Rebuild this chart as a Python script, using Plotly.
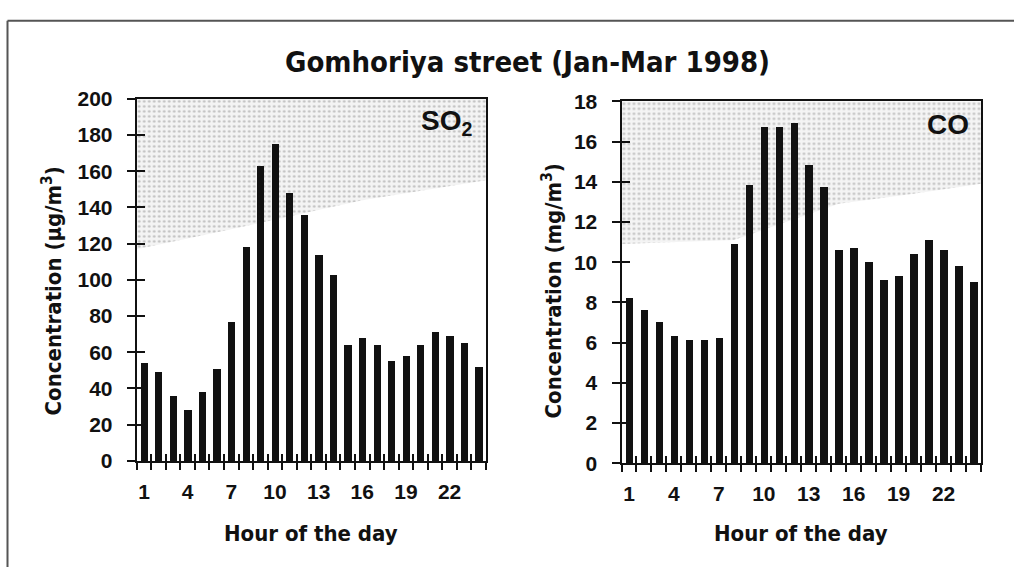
import plotly.graph_objects as go

# Hourly mean concentrations, Gomhoriya street, Jan-Mar 1998
hours = list(range(1, 25))
so2 = [54, 49, 36, 28, 38, 51, 77, 118, 163, 175, 148, 136,
       114, 103, 64, 68, 64, 55, 58, 64, 71, 69, 65, 52]
co = [8.2, 7.6, 7.0, 6.3, 6.1, 6.1, 6.2, 10.9, 13.8, 16.7, 16.7, 16.9,
      14.8, 13.7, 10.6, 10.7, 10.0, 9.1, 9.3, 10.4, 11.1, 10.6, 9.8, 9.0]

# Shaded (stippled) upper band: lower edge along the hour axis
so2_band_x = [0.5, 7, 16, 24.5]
so2_band_lo = [117, 128, 144, 155]
co_band_x = [0.5, 8, 15, 20, 24.5]
co_band_lo = [10.9, 11.1, 12.9, 13.4, 13.9]

hour_labels = [1, 4, 7, 10, 13, 16, 19, 22]
so2_ticks = list(range(0, 201, 20))
co_ticks = list(range(0, 19, 2))

TITLE = "Gomhoriya street (Jan-Mar 1998)"
COND = "DejaVu Sans Condensed, Liberation Sans Narrow, Liberation Sans, Arial, sans-serif"
SANS = "Liberation Sans, Arial, sans-serif"
INK = "#111111"

xr = [0.5, 24.5]
bounds = [h - 0.5 for h in hours] + [24.5]

fig = go.Figure()


def band(bx, blo, top, xa, ya):
    xs = list(bx) + list(reversed(bx))
    ys = list(blo) + [top] * len(bx)
    return go.Scatter(
        x=xs, y=ys, xaxis=xa, yaxis=ya, mode="lines", fill="toself",
        line=dict(width=0), fillcolor="rgba(0,0,0,0)",
        fillpattern=dict(shape=".", fgcolor="#8c8c8c", bgcolor="#f4f4f4",
                         size=5, solidity=0.22),
        hoverinfo="skip", showlegend=False)


# stippled bands sit on the base subplots
fig.add_trace(band(so2_band_x, so2_band_lo, 200, "x", "y"))
fig.add_trace(band(co_band_x, co_band_lo, 18, "x2", "y2"))

# bars live on the overlaying subplots so they are drawn above the bands
fig.add_trace(go.Bar(x=hours, y=so2, width=0.5, marker=dict(color=INK, line=dict(width=0)),
                     xaxis="x3", yaxis="y3", showlegend=False, name="SO2"))
fig.add_trace(go.Bar(x=hours, y=co, width=0.5, marker=dict(color=INK, line=dict(width=0)),
                     xaxis="x4", yaxis="y4", showlegend=False, name="CO"))

L_dom = [136.7 / 1014, 486 / 1014]
L_ydom = [1 - 467.5 / 578, 1 - 90.5 / 578]
R_dom = [621.5 / 1014, 981 / 1014]
R_ydom = [1 - 470 / 578, 1 - 93 / 578]

tickfont = dict(family=SANS, size=21, color=INK, weight="bold")


def xmain(dom, anchor):
    return dict(domain=dom, anchor=anchor, range=xr, showline=True, linecolor=INK,
                linewidth=2, mirror=True, showgrid=False, zeroline=False,
                tickmode="array", tickvals=hour_labels, ticktext=[str(h) for h in hour_labels],
                ticks="outside", ticklen=0, tickfont=tickfont, ticklabelstandoff=11,
                minor=dict(tickmode="array", tickvals=bounds, ticks="outside", ticklen=7,
                           tickwidth=1.5, tickcolor=INK))


def xinner(over, anchor, dom):
    return dict(domain=dom, overlaying=over, anchor=anchor, range=xr, showline=False,
                showgrid=False, zeroline=False, showticklabels=False,
                tickmode="array", tickvals=bounds, ticks="inside", ticklen=7,
                tickwidth=1.5, tickcolor=INK)


def ymain(dom, anchor, rng, tv):
    return dict(domain=dom, anchor=anchor, range=rng, showline=True, linecolor=INK,
                linewidth=2, mirror=True, showgrid=False, zeroline=False,
                tickmode="array", tickvals=tv, ticks="outside", ticklen=8, tickwidth=1.5,
                tickcolor=INK, tickfont=tickfont, ticklabelstandoff=10)


def yinner(over, anchor, dom, rng, tv):
    return dict(domain=dom, overlaying=over, anchor=anchor, range=rng, showline=False,
                showgrid=False, zeroline=False, showticklabels=False,
                tickmode="array", tickvals=tv, ticks="inside", ticklen=8, tickwidth=1.5,
                tickcolor=INK)


fig.update_layout(
    width=1014, height=578, margin=dict(l=0, r=0, t=0, b=0),
    paper_bgcolor="white", plot_bgcolor="rgba(0,0,0,0)", bargap=0,
    xaxis=xmain(L_dom, "y"),
    yaxis=ymain(L_ydom, "x", [0, 200], so2_ticks),
    xaxis2=xmain(R_dom, "y2"),
    yaxis2=ymain(R_ydom, "x2", [0, 18], co_ticks),
    xaxis3=xinner("x", "y3", L_dom),
    yaxis3=yinner("y", "x3", L_ydom, [0, 200], so2_ticks),
    xaxis4=xinner("x2", "y4", R_dom),
    yaxis4=yinner("y2", "x4", R_ydom, [0, 18], co_ticks),
    showlegend=False,
)


def label(text, x, y, size, family, angle=0, xanchor="center"):
    fig.add_annotation(text=text, x=x / 1014, y=1 - y / 578, xref="paper", yref="paper",
                       showarrow=False, xanchor=xanchor, yanchor="middle", textangle=angle,
                       font=dict(family=family, size=size, color=INK, weight="bold"))


label(TITLE, 527, 52, 29, COND)
label("SO<sub>2</sub>", 474, 115, 28, SANS, xanchor="right")
label("CO", 971, 117, 28, SANS, xanchor="right")
label("Concentration (µg/m<sup>3</sup>)", 52, 291, 22, COND, angle=-90)
label("Concentration (mg/m<sup>3</sup>)", 552, 291, 22, COND, angle=-90)
label("Hour of the day", 311, 543, 22, COND)
label("Hour of the day", 801, 543, 22, COND)

# outer frame (top and left edges)
fig.add_shape(type="line", xref="paper", yref="paper", x0=7.5 / 1014, x1=1.0,
              y0=1 - 9 / 578, y1=1 - 9 / 578, line=dict(color="#555555", width=2))
fig.add_shape(type="line", xref="paper", yref="paper", x0=7.5 / 1014, x1=7.5 / 1014,
              y0=0, y1=1 - 9 / 578, line=dict(color="#555555", width=2))

fig.write_html("out.html")
